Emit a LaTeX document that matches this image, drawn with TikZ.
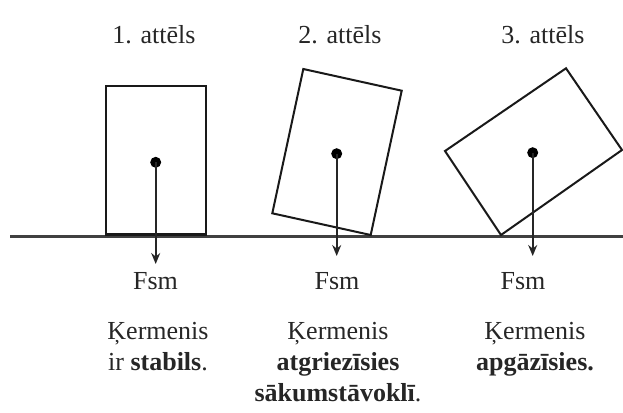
\documentclass[tikz,border=0pt]{standalone}
\usepackage{fontspec}
\setmainfont{Liberation Serif}
\usetikzlibrary{arrows.meta}
\begin{document}
\begin{tikzpicture}[x=1pt,y=-1pt,
  lbl/.style={font=\fontsize{26}{31}\selectfont, text=black!85, inner sep=0pt, anchor=base, align=center},
  body/.style={draw=black!90, line width=2pt, line join=miter},
  cg/.style={circle, fill=black, inner sep=0pt, minimum size=11pt},
  force/.style={draw=black!85, line width=1.6pt, -{Stealth[length=11pt,width=9pt]}},
  ground/.style={draw=black!75, line width=2.2pt}]
\useasboundingbox (0,0) rectangle (623,412);
% ground
\coordinate (gl) at (10,236.5);
\coordinate (gr) at (623,236.5);
\draw[ground] (gl) -- (gr);
% bodies
\draw[body] (105.7,86) -- (206,86) -- (206,235) -- (105.7,235) -- cycle;
\draw[body, line width=3pt] (105.7,234.5) -- (206,234.5);
\draw[body] (303.3,69) -- (401.7,90.7) -- (370.7,235) -- (272.3,213.3) -- cycle;
\draw[body] (445,151) -- (566,68.3) -- (622,150) -- (501,235) -- cycle;
% centres of gravity and forces
\node[cg] (c1) at (155.7,162.3) {};
\node[cg] (c2) at (336.7,153.7) {};
\node[cg] (c3) at (532.7,152.7) {};
\coordinate (f1) at (155.7,264);
\coordinate (f2) at (336.7,256);
\coordinate (f3) at (532.7,256);
\draw[force] (c1.center) -- (f1);
\draw[force] (c2.center) -- (f2);
\draw[force] (c3.center) -- (f3);
% titles
\node[lbl] (t1) at (154,44) {1. attēls};
\node[lbl] (t2) at (340,44) {2. attēls};
\node[lbl] (t3) at (543,44) {3. attēls};
% force labels
\node[lbl] (l1) at (155.5,289) {Fsm};
\node[lbl] (l2) at (337,289) {Fsm};
\node[lbl] (l3) at (523,289) {Fsm};
% descriptions (base anchor = last line)
\node[lbl] (d1) at (158,370) {Ķermenis\\ir \textbf{stabils}.};
\node[lbl] (d2) at (338,401) {Ķermenis\\\textbf{atgriezīsies}\\\textbf{sākumstāvoklī}.};
\node[lbl] (d3) at (535,370) {Ķermenis\\\textbf{apgāzīsies.}};
\end{tikzpicture}
\end{document}
